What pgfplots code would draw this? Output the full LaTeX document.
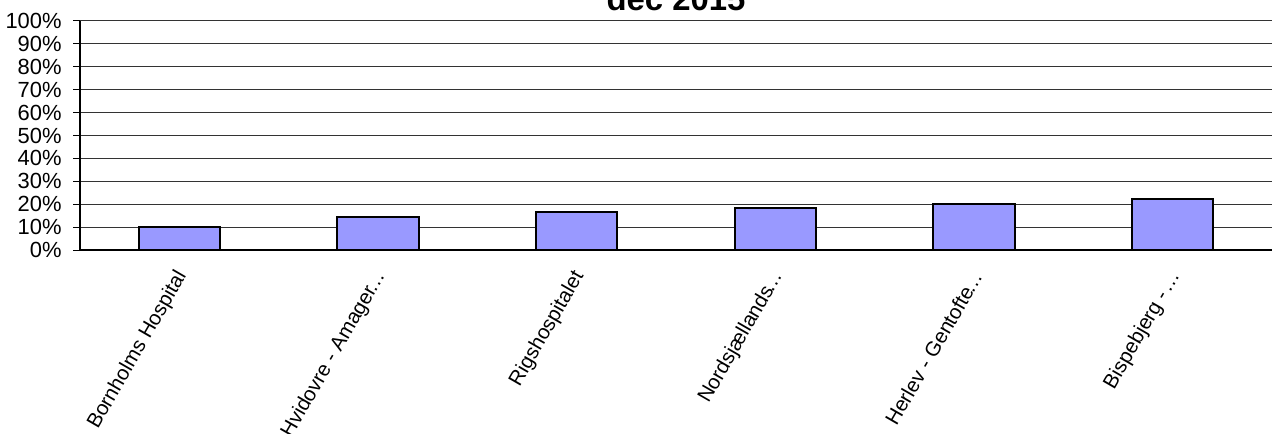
\documentclass[border=0pt]{standalone}
\usepackage{fontspec}
\setmainfont{Liberation Sans}
\usepackage{pgfplots}
\pgfplotsset{compat=1.18}
\definecolor{barfill}{HTML}{9999FF}
\newcommand{\myell}{\kern-1.8pt…}
\begin{document}
\begin{tikzpicture}
\begin{axis}[
  at={(40bp,92bp)}, anchor=south west,
  scale only axis, width=596bp, height=114.5bp,
  xmin=-0.5, xmax=5.5, ymin=0, ymax=100,
  axis x line*=bottom, axis y line*=left,
  axis line style={black, line width=0.6pt},
  ytick={0,10,...,100},
  yticklabel={\pgfmathparse{int(\tick)}\pgfmathresult\%},
  ymajorgrids, grid style={black!80, line width=0.5pt},
  tick align=outside,
  major tick length=3.5bp,
  tick style={black, line width=0.5pt},
  xtick={0,...,5},
  xticklabels={Bornholms Hospital, Hvidovre - Amager\myell, Rigshospitalet, Nordsjællands\myell, Herlev - Gentofte\myell, Bispebjerg - \myell},
  x tick style={draw=none},
  extra x ticks={0.5,1.5,2.5,3.5,4.5},
  extra x tick labels={},
  extra x tick style={tick style={draw=black, line width=0.5pt}, grid=none},
  xticklabel style={xshift=2bp, yshift=-7bp, rotate=60, anchor=east, font=\fontsize{10.3}{10.3}\selectfont, inner sep=1pt},
  yticklabel style={font=\fontsize{11}{11}\selectfont, inner sep=1pt, xshift=-4.5bp},
  /pgf/number format/assume math mode=true,
  title={dec 2015},
  title style={at={(0.5,1)}, anchor=base, yshift=-0.5bp, font=\bfseries\fontsize{16.5}{16.5}\selectfont, inner sep=0pt},
  ybar, bar width=0.41,
]
\addplot[fill=barfill, draw=black, line width=1bp] coordinates {(0,9.9) (1,14.4) (2,16.6) (3,18.5) (4,20.3) (5,22.3)};
\end{axis}
\pgfresetboundingbox
\useasboundingbox (0,0) rectangle (636bp,217bp);
\end{tikzpicture}
\end{document}
